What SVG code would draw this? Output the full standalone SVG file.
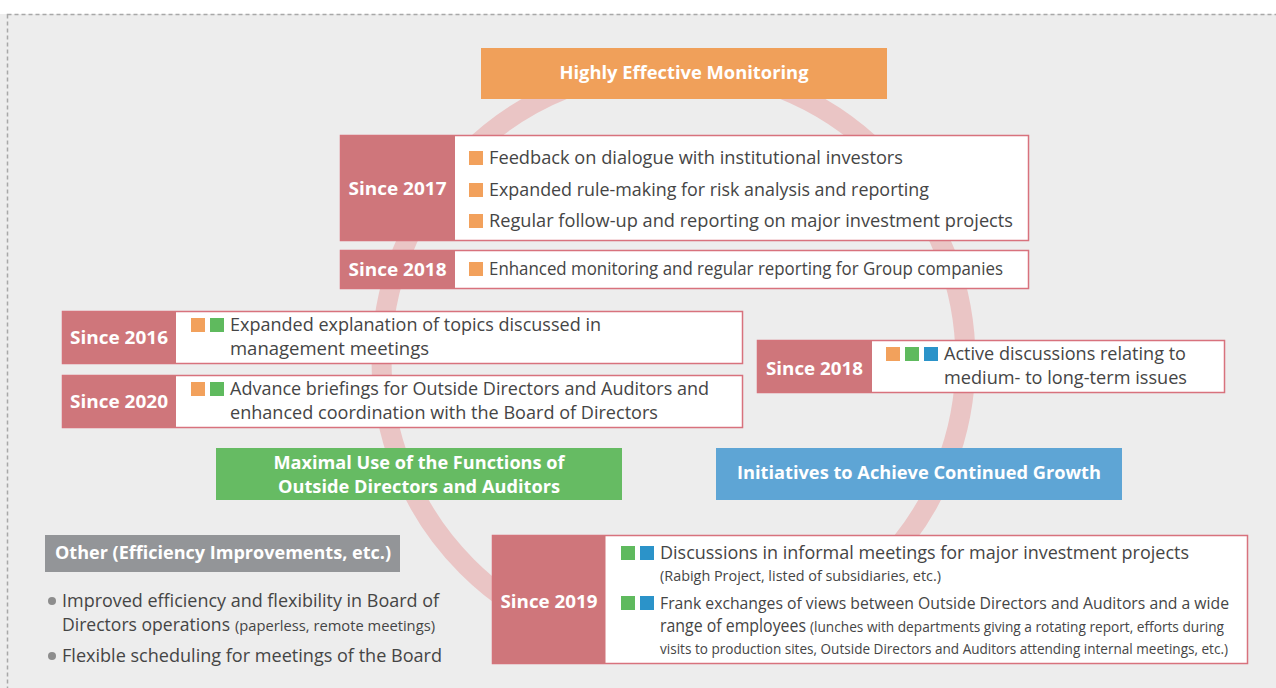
<svg xmlns="http://www.w3.org/2000/svg" width="1276" height="688" viewBox="0 0 1276 688">
<style>
.bg{fill:#ededed}
.frame{fill:none;stroke:#a8a8a8;stroke-width:1.5;stroke-dasharray:4 3}
.ring{fill:none;stroke:#eac5c5;stroke-width:20}
.box{fill:#ffffff;stroke:#d8727d;stroke-width:1.5}
.lab{fill:#cf767b}
.lt{font-family:"Open Sans","Liberation Sans",sans-serif;font-weight:700;font-size:18px;fill:#ffffff;text-anchor:middle}
.ht{font-family:"Open Sans","Liberation Sans",sans-serif;font-weight:700;font-size:18px;fill:#ffffff;text-anchor:middle}
.t{font-family:"Open Sans","Liberation Sans",sans-serif;font-size:18px;fill:#454545}
.s{font-family:"Open Sans","Liberation Sans",sans-serif;font-size:14px;fill:#454545}
.o{fill:#f2a15c}
.g{fill:#5fba5e}
.b{fill:#2b93c9}
.dot{fill:#8d8d8d}
</style>
<rect class="bg" x="0" y="0" width="1276" height="688"/>
<rect x="0" y="0" width="1276" height="14" fill="#ffffff"/>
<rect class="frame" x="7.5" y="14.5" width="1290" height="700"/>

<g id="connectors">
  <circle class="ring" cx="673.5" cy="360" r="292"/>
</g>

<g id="highly-effective-monitoring">
  <rect x="481" y="48" width="406" height="51" fill="#f0a05a"/>
  <text class="ht" x="684" y="79" textLength="249" lengthAdjust="spacingAndGlyphs">Highly Effective Monitoring</text>
</g>

<g id="since-2017">
  <rect class="box" x="340.5" y="135.5" width="688" height="105"/>
  <rect class="lab" x="340.5" y="135.5" width="114.5" height="105"/>
  <text class="lt" x="397.5" y="195" textLength="98" lengthAdjust="spacingAndGlyphs">Since 2017</text>
  <rect class="o" x="469" y="151" width="14" height="14"/>
  <text class="t" x="489" y="164" textLength="414" lengthAdjust="spacingAndGlyphs">Feedback on dialogue with institutional investors</text>
  <rect class="o" x="469" y="183" width="14" height="14"/>
  <text class="t" x="489" y="196" textLength="440" lengthAdjust="spacingAndGlyphs">Expanded rule-making for risk analysis and reporting</text>
  <rect class="o" x="469" y="214" width="14" height="14"/>
  <text class="t" x="489" y="227" textLength="524" lengthAdjust="spacingAndGlyphs">Regular follow-up and reporting on major investment projects</text>
</g>

<g id="since-2018-groups">
  <rect class="box" x="340.5" y="250.5" width="688" height="38"/>
  <rect class="lab" x="340.5" y="250.5" width="114.5" height="38"/>
  <text class="lt" x="397.5" y="276" textLength="98" lengthAdjust="spacingAndGlyphs">Since 2018</text>
  <rect class="o" x="469" y="262" width="14" height="14"/>
  <text class="t" x="489" y="275" textLength="514" lengthAdjust="spacingAndGlyphs">Enhanced monitoring and regular reporting for Group companies</text>
</g>

<g id="since-2016">
  <rect class="box" x="62.5" y="311.5" width="680" height="52"/>
  <rect class="lab" x="62.5" y="311.5" width="113.5" height="52"/>
  <text class="lt" x="119" y="344" textLength="98" lengthAdjust="spacingAndGlyphs">Since 2016</text>
  <rect class="o" x="191" y="318" width="14" height="14"/>
  <rect class="g" x="210" y="318" width="14" height="14"/>
  <text class="t" x="230" y="331" textLength="371" lengthAdjust="spacingAndGlyphs">Expanded explanation of topics discussed in</text>
  <text class="t" x="230" y="355" textLength="199" lengthAdjust="spacingAndGlyphs">management meetings</text>
</g>

<g id="since-2020">
  <rect class="box" x="62.5" y="375.5" width="680" height="52"/>
  <rect class="lab" x="62.5" y="375.5" width="113.5" height="52"/>
  <text class="lt" x="119" y="408" textLength="98" lengthAdjust="spacingAndGlyphs">Since 2020</text>
  <rect class="o" x="191" y="382" width="14" height="14"/>
  <rect class="g" x="210" y="382" width="14" height="14"/>
  <text class="t" x="230" y="395" textLength="479" lengthAdjust="spacingAndGlyphs">Advance briefings for Outside Directors and Auditors and</text>
  <text class="t" x="230" y="419" textLength="428" lengthAdjust="spacingAndGlyphs">enhanced coordination with the Board of Directors</text>
</g>

<g id="since-2018-discussions">
  <rect class="box" x="757.5" y="340.5" width="467" height="52"/>
  <rect class="lab" x="757.5" y="340.5" width="114.5" height="52"/>
  <text class="lt" x="814.5" y="375" textLength="97" lengthAdjust="spacingAndGlyphs">Since 2018</text>
  <rect class="o" x="886" y="347" width="14" height="14"/>
  <rect class="g" x="905" y="347" width="14" height="14"/>
  <rect class="b" x="924" y="347" width="14" height="14"/>
  <text class="t" x="944" y="360" textLength="242" lengthAdjust="spacingAndGlyphs">Active discussions relating to</text>
  <text class="t" x="944" y="384" textLength="243" lengthAdjust="spacingAndGlyphs">medium- to long-term issues</text>
</g>

<g id="maximal-use">
  <rect x="216" y="448" width="406" height="52" fill="#66bb63"/>
  <text class="ht" x="419" y="469" textLength="291" lengthAdjust="spacingAndGlyphs">Maximal Use of the Functions of</text>
  <text class="ht" x="419" y="493" textLength="282" lengthAdjust="spacingAndGlyphs">Outside Directors and Auditors</text>
</g>

<g id="continued-growth">
  <rect x="716" y="448" width="406" height="52" fill="#5ea5d5"/>
  <text class="ht" x="919" y="479" textLength="364" lengthAdjust="spacingAndGlyphs">Initiatives to Achieve Continued Growth</text>
</g>

<g id="other">
  <rect x="45" y="535" width="355" height="37" fill="#939598"/>
  <text class="ht" x="55" y="559" style="text-anchor:start" textLength="336" lengthAdjust="spacingAndGlyphs">Other (Efficiency Improvements, etc.)</text>
  <circle class="dot" cx="52" cy="601" r="4"/>
  <text class="t" x="62" y="607" textLength="377" lengthAdjust="spacingAndGlyphs">Improved efficiency and flexibility in Board of</text>
  <text class="t" x="62" y="631" textLength="168" lengthAdjust="spacingAndGlyphs">Directors operations</text>
  <text class="s" x="235" y="631" textLength="200" lengthAdjust="spacingAndGlyphs">(paperless, remote meetings)</text>
  <circle class="dot" cx="52" cy="656" r="4"/>
  <text class="t" x="62" y="662" textLength="380" lengthAdjust="spacingAndGlyphs">Flexible scheduling for meetings of the Board</text>
</g>

<g id="since-2019">
  <rect class="box" x="492.5" y="535.5" width="755" height="128"/>
  <rect class="lab" x="492.5" y="535.5" width="113" height="128"/>
  <text class="lt" x="549" y="608" textLength="97" lengthAdjust="spacingAndGlyphs">Since 2019</text>
  <rect class="g" x="621" y="546" width="14" height="14"/>
  <rect class="b" x="640" y="546" width="14" height="14"/>
  <text class="t" x="660" y="559" textLength="529" lengthAdjust="spacingAndGlyphs">Discussions in informal meetings for major investment projects</text>
  <text class="s" x="660" y="581" textLength="281" lengthAdjust="spacingAndGlyphs">(Rabigh Project, listed of subsidiaries, etc.)</text>
  <rect class="g" x="621" y="596" width="14" height="14"/>
  <rect class="b" x="640" y="596" width="14" height="14"/>
  <text class="t" x="660" y="609" style="font-size:16.5px" textLength="569" lengthAdjust="spacingAndGlyphs">Frank exchanges of views between Outside Directors and Auditors and a wide</text>
  <text class="t" x="660" y="632" textLength="146" lengthAdjust="spacingAndGlyphs">range of employees</text>
  <text class="s" x="810" y="632" textLength="414" lengthAdjust="spacingAndGlyphs">(lunches with departments giving a rotating report, efforts during</text>
  <text class="s" x="660" y="654" textLength="568" lengthAdjust="spacingAndGlyphs">visits to production sites, Outside Directors and Auditors attending internal meetings, etc.)</text>
</g>
</svg>
